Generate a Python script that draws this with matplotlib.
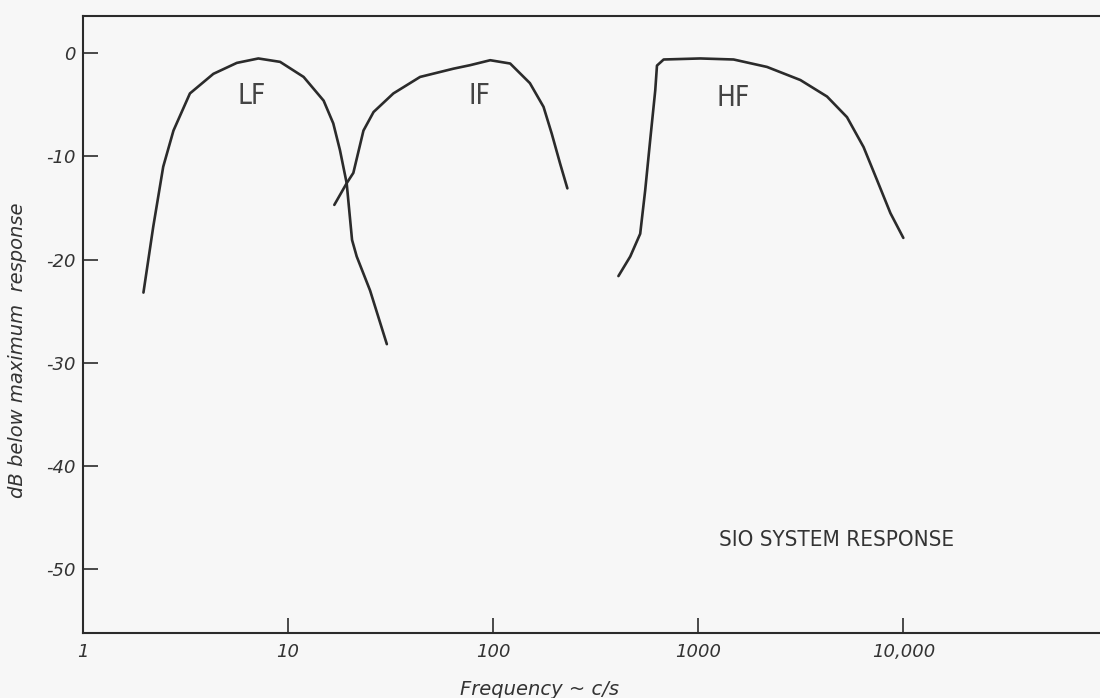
import matplotlib
matplotlib.use("Agg")
import matplotlib.pyplot as plt
from matplotlib.ticker import FixedLocator, NullLocator, FixedFormatter

plt.rcParams['axes.unicode_minus'] = False

# values (frequency in c/s, response in dB)
lf_freq = [1.97, 2.20, 2.46, 2.76, 3.32, 4.32, 5.62, 7.16, 9.14, 11.9, 14.9, 16.6, 17.9, 19.3, 20.5, 21.6, 25.1, 30.3]
lf_db = [-23.2, -16.8, -11.0, -7.5, -3.9, -2.0, -0.94, -0.51, -0.84, -2.3, -4.6, -6.8, -9.4, -12.6, -18.1, -19.7, -23.0, -28.2]

if_freq = [16.8, 19.3, 20.8, 23.3, 26.1, 32.6, 44.0, 64.0, 77.2, 96.7, 121, 151, 176, 193, 212, 230]
if_db = [-14.7, -12.6, -11.6, -7.5, -5.7, -3.9, -2.3, -1.5, -1.16, -0.68, -1.0, -2.9, -5.2, -7.8, -10.7, -13.1]

hf_freq = [408, 466, 521, 551, 583, 617, 629, 678, 1023, 1487, 2163, 3147, 4246, 5313, 6400, 7445, 8650, 10000]
hf_db = [-21.6, -19.7, -17.5, -13.3, -8.4, -3.6, -1.2, -0.61, -0.51, -0.61, -1.33, -2.6, -4.2, -6.2, -9.1, -12.3, -15.5, -17.9]

x_ticks = [1, 10, 100, 1000, 10000]
x_labels = ['1', '10', '100', '1000', '10,000']
y_ticks = [0, -10, -20, -30, -40, -50]

band_labels = ['LF', 'IF', 'HF']
band_label_pos = [(6.67, -4.1), (85.5, -4.1), (1482, -4.3)]

bg = '#f7f7f7'
ink = '#2b2b2b'

fig = plt.figure(figsize=(11, 6.98), dpi=100, facecolor=bg)
ax = fig.add_axes([0.0755, 0.093, 0.9245, 0.884], facecolor=bg)

for f, d in [(lf_freq, lf_db), (if_freq, if_db), (hf_freq, hf_db)]:
    ax.plot(f, d, color=ink, lw=1.9, solid_capstyle='round', solid_joinstyle='round')

ax.set_xscale('log')
ax.set_xlim(1, 91000)
ax.set_ylim(-56.2, 3.6)

ax.xaxis.set_major_locator(FixedLocator(x_ticks))
ax.xaxis.set_major_formatter(FixedFormatter(x_labels))
ax.xaxis.set_minor_locator(NullLocator())
ax.set_yticks(y_ticks)
ax.set_yticklabels([str(v) for v in y_ticks])

ax.tick_params(direction='in', length=11, width=1.2, color=ink, labelcolor='#333333')
ax.tick_params(axis='x', pad=7, labelsize=13)
ax.tick_params(axis='y', pad=5, labelsize=13)
for lab in ax.get_xticklabels() + ax.get_yticklabels():
    lab.set_fontstyle('italic')

for s in ['left', 'bottom', 'top']:
    ax.spines[s].set_linewidth(1.5)
    ax.spines[s].set_color(ink)
ax.spines['right'].set_visible(False)

ax.set_xlabel('Frequency ~ c/s', fontsize=14, fontstyle='italic', color='#333333')
ax.xaxis.set_label_coords(0.449, -0.076)
ax.set_ylabel('dB below maximum  response', fontsize=14, fontstyle='italic', color='#333333')
ax.yaxis.set_label_coords(-0.055, 0.459)

for lab, (fx, fy) in zip(band_labels, band_label_pos):
    ax.text(fx, fy, lab, family='DejaVu Sans', fontstretch='condensed', fontweight='light',
            fontsize=20, color='#444444', ha='center', va='center')

ax.text(837 / 1100, 1 - 540 / 698, 'SIO SYSTEM RESPONSE', transform=fig.transFigure,
        family='DejaVu Sans', fontstretch='condensed', fontweight='light',
        fontsize=16, color='#333333', ha='center', va='center')

fig.savefig('out.png', dpi=100, facecolor=bg)
